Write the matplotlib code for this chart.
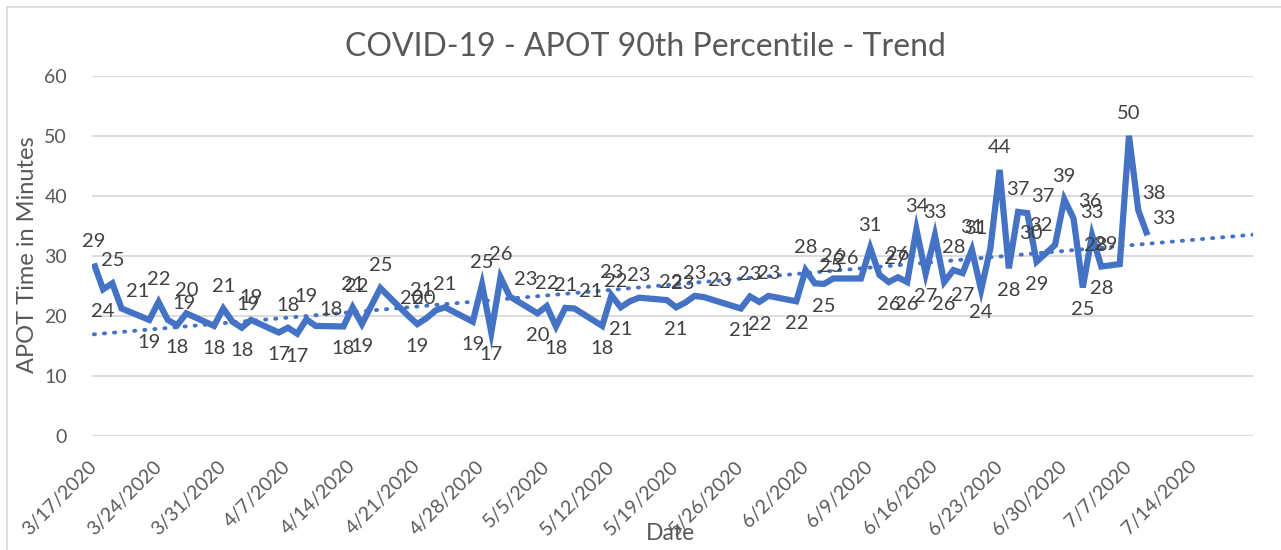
import matplotlib
matplotlib.use("Agg")
import matplotlib.pyplot as plt
import matplotlib.dates as mdates
import numpy as np
import pandas as pd
from matplotlib.lines import Line2D

# ---------------- data ----------------
dates = [
    "2020-03-17", "2020-03-18", "2020-03-19", "2020-03-20",
    "2020-03-23", "2020-03-24", "2020-03-25", "2020-03-26", "2020-03-27",
    "2020-03-30", "2020-03-31", "2020-04-01", "2020-04-02", "2020-04-03",
    "2020-04-06", "2020-04-07", "2020-04-08", "2020-04-09", "2020-04-10",
    "2020-04-13", "2020-04-14", "2020-04-15", "2020-04-16", "2020-04-17",
    "2020-04-20", "2020-04-21", "2020-04-22", "2020-04-23", "2020-04-24",
    "2020-04-27", "2020-04-28", "2020-04-29", "2020-04-30", "2020-05-01",
    "2020-05-04", "2020-05-05", "2020-05-06", "2020-05-07", "2020-05-08",
    "2020-05-11", "2020-05-12", "2020-05-13", "2020-05-14", "2020-05-15",
    "2020-05-18", "2020-05-19", "2020-05-20", "2020-05-21", "2020-05-22",
    "2020-05-26", "2020-05-27", "2020-05-28", "2020-05-29",
    "2020-06-01", "2020-06-02", "2020-06-03", "2020-06-04", "2020-06-05",
    "2020-06-08", "2020-06-09", "2020-06-10", "2020-06-11", "2020-06-12",
    "2020-06-13", "2020-06-14", "2020-06-15", "2020-06-16", "2020-06-17",
    "2020-06-18", "2020-06-19", "2020-06-20", "2020-06-21", "2020-06-22",
    "2020-06-23", "2020-06-24", "2020-06-25", "2020-06-26", "2020-06-27",
    "2020-06-28", "2020-06-29", "2020-06-30", "2020-07-01", "2020-07-02",
    "2020-07-03", "2020-07-04", "2020-07-05", "2020-07-06", "2020-07-07",
    "2020-07-08", "2020-07-09",
]
apot = [
    28.7, 24.4, 25.4, 21.2,
    19.3, 22.3, 19.3, 18.4, 20.4,
    18.3, 21.2, 19.0, 18.0, 19.3,
    17.2, 18.0, 17.0, 19.4, 18.3,
    18.2, 21.4, 18.6, 21.6, 24.6,
    20.0, 18.6, 19.6, 20.9, 21.4,
    19.0, 25.2, 17.2, 26.4, 23.2,
    20.4, 21.6, 18.2, 21.3, 21.2,
    18.3, 23.4, 21.4, 22.4, 23.0,
    22.6, 21.4, 22.2, 23.3, 23.1,
    21.2, 23.2, 22.3, 23.3,
    22.4, 27.6, 25.4, 25.3, 26.2,
    26.2, 31.3, 26.8, 25.6, 26.4,
    25.6, 34.4, 27.0, 33.4, 25.6,
    27.6, 27.1, 31.0, 24.3, 31.2,
    44.3, 27.9, 37.3, 37.1, 29.0,
    30.4, 31.8, 39.4, 36.2, 24.7,
    33.4, 28.2, 28.4, 28.6, 50.0,
    37.6, 33.4,
]
tick_dates = pd.date_range("2020-03-17", "2020-07-14", freq="7D")
x_end = "2020-07-20 10:00"

title = "COVID-19 - APOT 90th Percentile - Trend"
ylabel = "APOT Time in Minutes"
xlabel = "Date"

# ---------------- style ----------------
FONT = ["Lato", "DejaVu Sans"]
plt.rcParams["font.family"] = FONT
LINE_C = "#4472C4"
TXT_C = "#595959"
LBL_C = "#404040"
GRID_C = "#D9D9D9"

W, H = 1281, 550
fig = plt.figure(figsize=(W / 100, H / 100), dpi=100)
ax = fig.add_axes([92 / W, 1 - 435.7 / H, (1253 - 92) / W, (435.7 - 75.7) / H])

x = mdates.date2num(pd.to_datetime(dates))
y = np.array(apot)

ax.plot(x, y, color=LINE_C, lw=4.5, solid_joinstyle="miter", solid_capstyle="butt", zorder=3)

# linear trendline (forward to axis end)
coef = np.polyfit(x, y, 1)
x0 = x[0]
x1 = mdates.date2num(pd.Timestamp(x_end))
xt = np.array([x0, x1])
ax.plot(xt, np.polyval(coef, xt), color=LINE_C, lw=2.8, ls=(0, (0.3, 2.3)),
        dash_capstyle="round", zorder=2)

# data labels: above peaks, below troughs, beside slopes
n = len(y)
for i in range(n):
    prev_v = y[i - 1] if i > 0 else y[i] - 1
    next_v = y[i + 1] if i < n - 1 else y[i] - 1
    txt = str(int(round(y[i])))
    kw = dict(textcoords="offset points", fontsize=14.5, color=LBL_C, zorder=4)
    if y[i] < prev_v and y[i] < next_v:
        ax.annotate(txt, (x[i], y[i]), xytext=(0, -10), ha="center", va="top", **kw)
    elif y[i] >= prev_v and y[i] >= next_v:
        ax.annotate(txt, (x[i], y[i]), xytext=(0, 10), ha="center", va="bottom", **kw)
    elif next_v > y[i]:
        ax.annotate(txt, (x[i], y[i]), xytext=(-2, 8), ha="right", va="bottom", **kw)
    else:
        ax.annotate(txt, (x[i], y[i]), xytext=(3, 6), ha="left", va="bottom", **kw)

ax.set_ylim(0, 60)
ax.set_yticks(np.arange(0, 61, 10))
ax.set_xlim(x0 - 0.2, x1)
ax.set_xticks(mdates.date2num(tick_dates))
ax.set_xticklabels([f"{d.month}/{d.day}/{d.year}" for d in tick_dates],
                   rotation=45, ha="right", va="center", rotation_mode="anchor")
ax.grid(axis="y", color=GRID_C, lw=1.3)
ax.set_axisbelow(True)
for s in ax.spines.values():
    s.set_visible(False)
ax.tick_params(axis="y", length=0, pad=18, labelsize=14, labelcolor=TXT_C)
ax.tick_params(axis="x", length=0, pad=20, labelsize=14, labelcolor=TXT_C)

fig.text(645 / W, 1 - 47 / H, title, ha="center", va="center", fontsize=23, color=TXT_C)
fig.text(28 / W, 1 - 255 / H, ylabel, ha="center", va="center", rotation=90,
         fontsize=17, color=TXT_C)
fig.text(671 / W, 1 - 534 / H, xlabel, ha="center", va="center", fontsize=16.5, color=TXT_C)

# chart border (left and top edges visible)
fig.add_artist(Line2D([7 / W, 7 / W], [0, 1 - 7 / H], transform=fig.transFigure,
                      color=GRID_C, lw=1.2))
fig.add_artist(Line2D([7 / W, 1], [1 - 7 / H, 1 - 7 / H], transform=fig.transFigure,
                      color=GRID_C, lw=1.2))

fig.savefig("out.png", dpi=100)
